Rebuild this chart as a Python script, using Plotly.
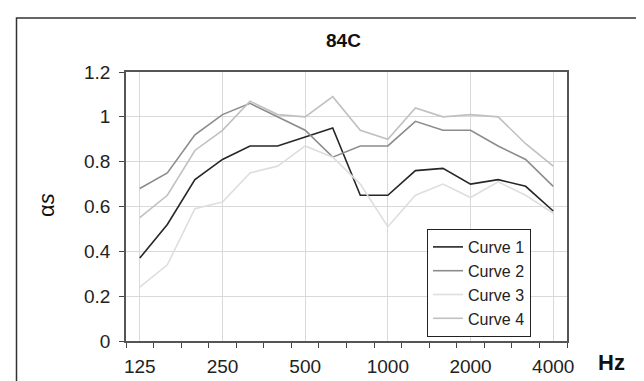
import plotly.graph_objects as go

freq_labels = ["125", "160", "200", "250", "315", "400", "500", "630", "800",
               "1000", "1250", "1600", "2000", "2500", "3150", "4000"]
shown_ticks = ["125", "250", "500", "1000", "2000", "4000"]

curve1 = [0.37, 0.52, 0.72, 0.81, 0.87, 0.87, 0.91, 0.95, 0.65, 0.65, 0.76, 0.77, 0.70, 0.72, 0.69, 0.58]
curve2 = [0.68, 0.75, 0.92, 1.01, 1.06, 1.00, 0.94, 0.82, 0.87, 0.87, 0.98, 0.94, 0.94, 0.87, 0.81, 0.69]
curve3 = [0.24, 0.34, 0.59, 0.62, 0.75, 0.78, 0.87, 0.82, 0.70, 0.51, 0.65, 0.70, 0.64, 0.71, 0.65, 0.57]
curve4 = [0.55, 0.65, 0.85, 0.94, 1.07, 1.01, 1.00, 1.09, 0.94, 0.90, 1.04, 1.00, 1.01, 1.00, 0.88, 0.78]

series_names = ["Curve 1", "Curve 2", "Curve 3", "Curve 4"]
series_values = [curve1, curve2, curve3, curve4]
series_colors = ["#262626", "#8c8c8c", "#dedede", "#c0c0c0"]

FONT = "Liberation Sans, Arial, Helvetica, sans-serif"

idx = list(range(len(freq_labels)))

fig = go.Figure()
for name, vals, col in zip(series_names, series_values, series_colors):
    fig.add_trace(go.Scatter(x=idx, y=vals, mode="lines", name=name,
                             line=dict(color=col, width=1.6)))

L, R, T, B = 118, 85, 64, 48
W, H = 644, 381
pw, ph = W - L - R, H - T - B

def px(x):
    return (x - L) / pw

def py(y):
    return (H - B - y) / ph

tick_pos = [freq_labels.index(t) for t in shown_ticks]

fig.update_layout(
    width=W, height=H,
    margin=dict(l=L, r=R, t=T, b=B, pad=0),
    paper_bgcolor="white", plot_bgcolor="white",
    font=dict(family=FONT, size=19, color="#222222"),
    showlegend=True,
    legend=dict(x=px(419), y=py(221), xanchor="left", yanchor="top",
                bordercolor="#222222", borderwidth=1, bgcolor="white",
                font=dict(family=FONT, size=16, color="#222222"),
                entrywidth=72, entrywidthmode="pixels"),
    xaxis=dict(range=[-0.5, len(freq_labels) - 0.5],
               tickmode="array", tickvals=tick_pos, ticktext=shown_ticks,
               ticks="", showgrid=True, gridcolor="#d9d9d9", gridwidth=1,
               showline=True, linecolor="#555555", linewidth=1.5, mirror=True,
               zeroline=False, ticklabelstandoff=7,
               minor=dict(tickmode="array",
                          tickvals=[i - 0.5 for i in range(len(freq_labels) + 1)],
                          ticks="outside", ticklen=5, tickcolor="#444444",
                          tickwidth=1, showgrid=False),
               tickfont=dict(family=FONT, size=19, color="#222222")),
    yaxis=dict(range=[0, 1.2], tickmode="array",
               tickvals=[0, 0.2, 0.4, 0.6, 0.8, 1.0, 1.2],
               ticktext=["0", "0.2", "0.4", "0.6", "0.8", "1", "1.2"],
               ticks="outside", ticklen=5, tickcolor="#444444",
               showgrid=True, gridcolor="#d9d9d9", gridwidth=1,
               showline=True, linecolor="#555555", linewidth=1.5, mirror=True,
               zeroline=False, ticklabelstandoff=5,
               tickfont=dict(family=FONT, size=19, color="#222222")),
    shapes=[dict(type="rect", xref="paper", yref="paper",
                 x0=px(8.5), x1=px(660), y0=py(400), y1=py(10),
                 line=dict(color="#333333", width=1.5), fillcolor="rgba(0,0,0,0)",
                 layer="below")],
    annotations=[
        dict(text="<b>84C</b>", xref="paper", yref="paper", x=px(335), y=py(32),
             xanchor="center", yanchor="middle", showarrow=False,
             font=dict(family=FONT, size=19, color="#111111")),
        dict(text="<b>Hz</b>", xref="paper", yref="paper", x=px(603), y=py(354),
             xanchor="center", yanchor="middle", showarrow=False,
             font=dict(family=FONT, size=22, color="#111111")),
        dict(text="α<i>s</i>", xref="paper", yref="paper", x=px(38), y=py(197),
             xanchor="center", yanchor="middle", showarrow=False, textangle=-90,
             font=dict(family=FONT, size=22, color="#111111")),
    ],
)

fig.write_html("out.html")
